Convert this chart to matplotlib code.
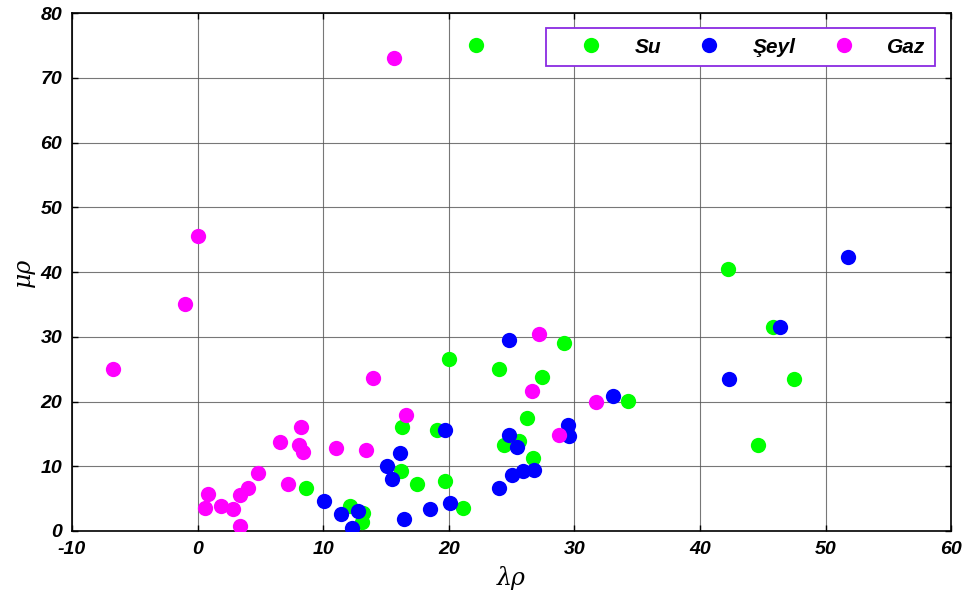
import matplotlib
matplotlib.use("Agg")
import matplotlib.pyplot as plt

plt.rcParams['axes.unicode_minus'] = False

# Su (water)
su_x = [22.2, 8.6, 12.1, 13.2, 13.1, 16.3, 16.2, 17.5, 20.0, 19.1, 19.7, 21.1,
        24.0, 29.2, 27.4, 34.3, 26.2, 24.4, 25.6, 26.7, 42.2, 45.8, 47.5, 44.6]
su_y = [75.1, 6.6, 3.9, 2.8, 1.4, 16.1, 9.2, 7.2, 26.6, 15.6, 7.7, 3.5,
        25.1, 29.0, 23.8, 20.1, 17.4, 13.3, 13.9, 11.2, 40.5, 31.5, 23.5, 13.3]

# Şeyl (shale)
seyl_x = [10.1, 11.4, 12.3, 12.8, 16.1, 15.1, 15.5, 16.4, 18.5, 19.7, 20.1,
          24.8, 33.1, 29.5, 29.6, 24.8, 25.4, 25.0, 25.9, 26.8, 24.0,
          51.8, 46.4, 42.3]
seyl_y = [4.6, 2.6, 0.5, 3.1, 12.0, 10.0, 8.1, 1.8, 3.4, 15.6, 4.4,
          29.5, 20.8, 16.4, 14.6, 14.8, 13.0, 8.7, 9.2, 9.4, 6.6,
          42.3, 31.5, 23.5]

# Gaz (gas)
gaz_x = [0.0, -1.0, -6.7, 8.2, 6.6, 8.1, 8.4, 11.0, 4.8, 7.2, 4.0, 3.4, 0.8,
         0.6, 1.9, 2.8, 3.4, 14.0, 13.4, 16.6, 15.6, 27.2, 26.6, 31.7, 28.8]
gaz_y = [45.6, 35.1, 25.1, 16.1, 13.8, 13.3, 12.2, 12.8, 8.9, 7.2, 6.6, 5.6, 5.7,
         3.6, 3.8, 3.4, 0.8, 23.6, 12.5, 17.9, 73.1, 30.4, 21.6, 20.0, 14.8]

fig = plt.figure(figsize=(9.72, 6.01), dpi=100)
ax = fig.add_axes([0.0741, 0.1165, 0.9044, 0.8615])

ms = 11
ax.plot(su_x, su_y, 'o', color='#00ff00', ms=ms, mec='none', label='Su', zorder=3)
ax.plot(seyl_x, seyl_y, 'o', color='#0000ff', ms=ms, mec='none', label='Şeyl', zorder=3)
ax.plot(gaz_x, gaz_y, 'o', color='#ff00ff', ms=ms, mec='none', label='Gaz', zorder=3)

ax.set_xlim(-10, 60)
ax.set_ylim(0, 80)
ax.set_xticks(range(-10, 61, 10))
ax.set_yticks(range(0, 81, 10))
ax.grid(True, color='#555555', linewidth=0.8, alpha=0.8)
ax.tick_params(direction='in', length=4, width=1, top=True, right=True, pad=7)
for lab in ax.get_xticklabels() + ax.get_yticklabels():
    lab.set_fontfamily('Liberation Sans')
    lab.set_fontweight('bold')
    lab.set_fontstyle('italic')
    lab.set_fontsize(14)
for sp in ax.spines.values():
    sp.set_linewidth(1.2)

ax.set_xlabel('λρ', fontsize=17, fontstyle='italic', fontfamily='DejaVu Serif', labelpad=6)
ax.set_ylabel('μρ', fontsize=17, fontstyle='italic', fontfamily='DejaVu Serif', labelpad=4)

leg = ax.legend(ncol=3, loc='upper right', bbox_to_anchor=(0.9818, 0.971),
                borderaxespad=0, frameon=True, fancybox=False, framealpha=1,
                handlelength=3.4, handletextpad=0.4, columnspacing=0.6,
                borderpad=0.45,
                prop={'family': 'Liberation Sans', 'weight': 'bold',
                      'style': 'italic', 'size': 15})
leg.get_frame().set_edgecolor('#8a2be2')
leg.get_frame().set_linewidth(1.3)

fig.savefig('out.png', dpi=100)
